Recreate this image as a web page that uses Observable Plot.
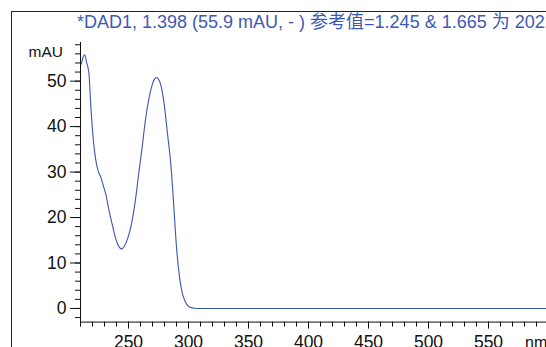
<!DOCTYPE html>
<html>
<head>
<meta charset="utf-8">
<script src="https://cdn.jsdelivr.net/npm/d3@7"></script>
<script src="https://cdn.jsdelivr.net/npm/@observablehq/plot@0.6"></script>
<style>
  html, body { margin: 0; padding: 0; background: #fff; overflow: hidden; width: 546px; height: 347px; }
  #wrap { position: relative; width: 546px; height: 347px; overflow: hidden; font-family: "Liberation Sans", Arial, "Noto Sans CJK SC", sans-serif; }
  #frame { position: absolute; left: 11px; top: 11px; width: 600px; height: 400px; border-left: 1px solid #222; border-top: 1px solid #222; }
  #title { position: absolute; left: 77px; top: 13px; white-space: nowrap; font-size: 18px; color: #3d59b6; line-height: 18px; }
  #ylab { position: absolute; right: 483px; top: 44px; font-size: 15.5px; color: #111; line-height: 16px; }
  #xlab { position: absolute; left: 525px; top: 335px; font-size: 16px; color: #111; line-height: 16px; }
  #chart { position: absolute; left: 0; top: 0; width: 600px; }
</style>
</head>
<body>
<div id="wrap">
  <div id="frame"></div>
  <div id="title">*DAD1, 1.398 (55.9 mAU, - ) 参考值=1.245 &amp; 1.665 为 2022</div>
  <div id="ylab">mAU</div>
  <div id="xlab">nm</div>
  <div id="chart"></div>
</div>
<script>
const wavelength = [210.8, 212, 213.5, 215, 217, 218.6, 220.5, 222, 223.3, 225, 226.9, 229, 231, 233.8, 236.7, 239.4, 242, 244.3, 246.5, 249.2, 252.5, 256.1, 258.8, 261.1, 264.4, 267.2, 270, 271.8, 273.3, 275, 276.9, 279.7, 282.5, 285.25, 288, 290, 292.2, 295, 297, 299.2, 301.5, 304.7, 310, 620];
const absorbance = [53.8, 55.2, 55.8, 54.2, 51.8, 44.5, 37.6, 34.0, 31.8, 30.0, 28.9, 27.0, 25.2, 21.5, 18.2, 15.3, 13.6, 13.1, 13.7, 15.3, 18.6, 24.5, 30.3, 34.9, 42.0, 46.4, 49.4, 50.5, 50.8, 50.4, 49.2, 45.0, 38.4, 31.8, 21.5, 13.5, 7.6, 3.2, 1.7, 0.66, 0.25, 0.05, 0, 0];
const xMajorTicks = [250, 300, 350, 400, 450, 500, 550];
const xMinorTicks = d3.range(210, 621, 10);
const yMajorTicks = [0, 10, 20, 30, 40, 50];
const yMinorTicks = d3.range(-2, 59, 2);

const data = wavelength.map((w, i) => ({w, a: absorbance[i]}));

const chart = Plot.plot({
  width: 600,
  height: 347,
  marginLeft: 80,
  marginRight: 28,
  marginTop: 42,
  marginBottom: 25.4,
  style: {fontFamily: '"Liberation Sans", Arial, sans-serif', fontSize: "17.5px", color: "#111", background: "transparent", overflow: "visible", maxWidth: "none", width: "600px", height: "347px"},
  x: {domain: [210, 620]},
  y: {domain: [-3, 58.5]},
  marks: [
    Plot.axisX({ticks: xMinorTicks, tickSize: 5, text: null, label: null}),
    Plot.axisX({ticks: xMajorTicks, tickSize: 7, tickPadding: 6, label: null, tickFormat: d => String(d)}),
    Plot.axisY({ticks: yMinorTicks, tickSize: 5, text: null, label: null}),
    Plot.axisY({ticks: yMajorTicks, tickSize: 10, tickPadding: 4, label: null, tickFormat: d => String(d)}),
    Plot.ruleX([210], {y1: -3.7, y2: 58.5, stroke: "#111"}),
    Plot.ruleY([-3], {stroke: "#111"}),
    Plot.line(data, {x: "w", y: "a", stroke: "#3b55b3", strokeWidth: 1.1, curve: "monotone-x"})
  ]
});
document.getElementById("chart").appendChild(chart);
</script>
</body>
</html>
